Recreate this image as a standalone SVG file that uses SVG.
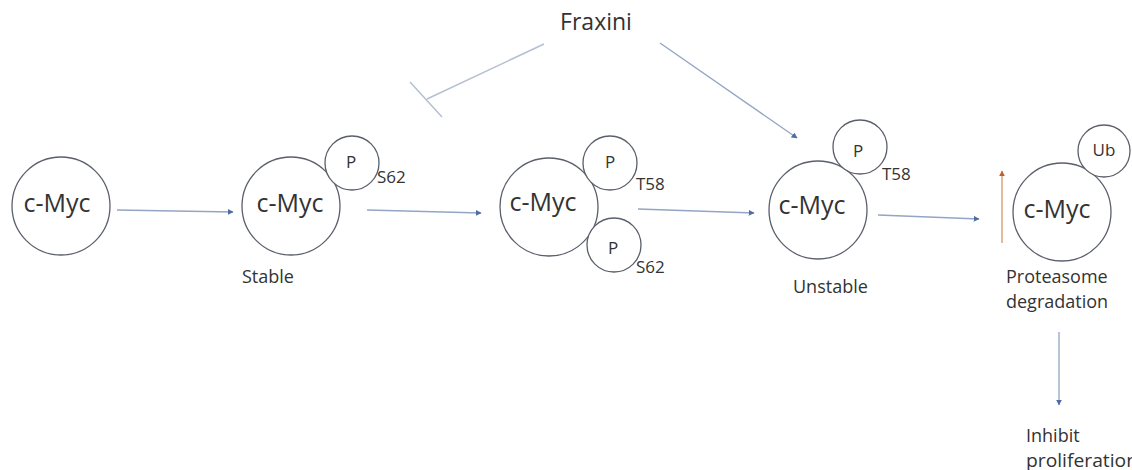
<svg xmlns="http://www.w3.org/2000/svg" width="1132" height="470" viewBox="0 0 1132 470">
  <defs>
    <style>
      text { font-family: "Open Sans", "Liberation Sans", sans-serif; fill: #333; }
      .myc { fill: #fff; stroke: #5a5f6a; stroke-width: 1.3; }
      .mod { fill: #fff; stroke: #5a5f6a; stroke-width: 1.3; }
      .big { font-size: 25px; text-anchor: middle; }
      .p { font-size: 17px; text-anchor: middle; }
      .site { font-size: 17px; }
      .lbl { font-size: 18px; }
      .edge { fill: none; stroke: #93a5c4; stroke-width: 1.3; }
      .inh { fill: none; stroke: #b4bfd0; stroke-width: 1.5; }
      .up { fill: none; stroke: #d9a47c; stroke-width: 1.5; }
    </style>
    <marker id="ah" viewBox="0 0 10 10" refX="9" refY="5" markerWidth="6" markerHeight="6" orient="auto" markerUnits="userSpaceOnUse">
      <path d="M0,0 L10,5 L0,10 z" fill="#4d6da4"/>
    </marker>
    <marker id="ahOrange" viewBox="0 0 10 10" refX="9" refY="5" markerWidth="6" markerHeight="6" orient="auto" markerUnits="userSpaceOnUse">
      <path d="M0,0 L10,5 L0,10 z" fill="#c0602a"/>
    </marker>
  </defs>

  <rect width="1132" height="470" fill="#fff"/>

  <!-- connectors -->
  <g id="connectors">
    <line class="edge" x1="117" y1="210" x2="233" y2="212" marker-end="url(#ah)"/>
    <line class="edge" x1="367" y1="210" x2="481" y2="213" marker-end="url(#ah)"/>
    <line class="edge" x1="638" y1="209" x2="754" y2="213" marker-end="url(#ah)"/>
    <line class="edge" x1="878" y1="215" x2="979" y2="219" marker-end="url(#ah)"/>
    <line class="edge" x1="660" y1="43" x2="797" y2="138" marker-end="url(#ah)"/>
    <line class="edge" x1="1059" y1="332" x2="1059" y2="405" marker-end="url(#ah)"/>
    <line class="up" x1="1002" y1="243" x2="1002" y2="171" marker-end="url(#ahOrange)"/>
    <!-- inhibition: Fraxini blocks the S62 -> T58 step -->
    <line class="inh" x1="544" y1="44" x2="427" y2="99"/>
    <line class="inh" x1="410" y1="82" x2="442" y2="117"/>
  </g>

  <g id="fraxini">
    <text x="596" y="30" font-size="23" text-anchor="middle">Fraxini</text>
  </g>

  <g id="myc-free">
    <circle class="myc" cx="61" cy="206" r="49"/>
    <text class="big" x="57" y="212">c-Myc</text>
  </g>

  <g id="myc-s62">
    <circle class="myc" cx="291" cy="206" r="49"/>
    <text class="big" x="290" y="212">c-Myc</text>
    <circle class="mod" cx="352" cy="163" r="27"/>
    <text class="p" x="351" y="168">P</text>
    <text class="site" x="377" y="183">S62</text>
    <text class="lbl" x="242" y="283">Stable</text>
  </g>

  <g id="myc-t58-s62">
    <circle class="myc" cx="549" cy="207" r="49"/>
    <text class="big" x="543" y="211">c-Myc</text>
    <circle class="mod" cx="610" cy="163" r="27"/>
    <text class="p" x="610" y="168">P</text>
    <text class="site" x="636" y="190">T58</text>
    <circle class="mod" cx="614" cy="245" r="27"/>
    <text class="p" x="613" y="254">P</text>
    <text class="site" x="636" y="273">S62</text>
  </g>

  <g id="myc-t58">
    <circle class="myc" cx="818" cy="210" r="49"/>
    <text class="big" x="812" y="214">c-Myc</text>
    <circle class="mod" cx="860" cy="147" r="27"/>
    <text class="p" x="858" y="157">P</text>
    <text class="site" x="882" y="180">T58</text>
    <text class="lbl" x="793" y="293">Unstable</text>
  </g>

  <g id="myc-ub">
    <circle class="myc" cx="1062" cy="212" r="49"/>
    <text class="big" x="1057" y="218">c-Myc</text>
    <circle class="mod" cx="1104" cy="151" r="26"/>
    <text class="p" x="1104" y="156">Ub</text>
    <text class="lbl" x="1006" y="283" font-size="19.5">Proteasome</text>
    <text class="lbl" x="1006" y="308" font-size="19.5">degradation</text>
  </g>

  <g id="outcome">
    <text class="lbl" x="1026" y="442" font-size="19.5">Inhibit</text>
    <text class="lbl" x="1026" y="467" font-size="19.5" textLength="112" lengthAdjust="spacingAndGlyphs">proliferation</text>
  </g>
</svg>
